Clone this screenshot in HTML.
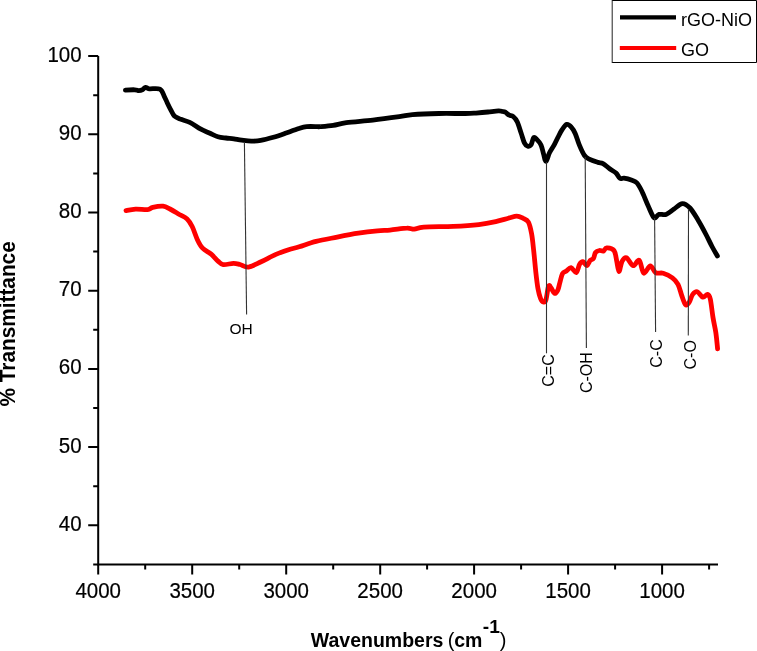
<!DOCTYPE html><html><head><meta charset="utf-8"><style>html,body{margin:0;padding:0;background:#fff;}svg{display:block;will-change:transform;}text{font-family:"Liberation Sans",sans-serif;}</style></head><body>
<svg width="757" height="651" viewBox="0 0 757 651">
<rect width="757" height="651" fill="#fff"/>
<g stroke="#000" stroke-width="2" fill="none">
<path d="M98.2 56.0 V564.4 H718.0"/>
<path d="M88.2 56.0h10 M93.2 95.2h5 M88.2 134.3h10 M93.2 173.4h5 M88.2 212.5h10 M93.2 251.6h5 M88.2 290.7h10 M93.2 329.8h5 M88.2 368.9h10 M93.2 408.0h5 M88.2 447.1h10 M93.2 486.2h5 M88.2 525.3h10 M93.2 564.4h5 M98.2 564.4v10 M145.2 564.4v5 M192.2 564.4v10 M239.2 564.4v5 M286.2 564.4v10 M333.2 564.4v5 M380.2 564.4v10 M427.1 564.4v5 M474.1 564.4v10 M521.1 564.4v5 M568.1 564.4v10 M615.1 564.4v5 M662.1 564.4v10 M709.1 564.4v5"/>
</g>
<text transform="translate(81.6 61.65) scale(1 1.05)" font-size="20.5" text-anchor="end" stroke="#000" stroke-width="0.2">100</text>
<text transform="translate(81.6 139.86) scale(1 1.05)" font-size="20.5" text-anchor="end" stroke="#000" stroke-width="0.2">90</text>
<text transform="translate(81.6 218.07) scale(1 1.05)" font-size="20.5" text-anchor="end" stroke="#000" stroke-width="0.2">80</text>
<text transform="translate(81.6 296.28) scale(1 1.05)" font-size="20.5" text-anchor="end" stroke="#000" stroke-width="0.2">70</text>
<text transform="translate(81.6 374.49) scale(1 1.05)" font-size="20.5" text-anchor="end" stroke="#000" stroke-width="0.2">60</text>
<text transform="translate(81.6 452.70) scale(1 1.05)" font-size="20.5" text-anchor="end" stroke="#000" stroke-width="0.2">50</text>
<text transform="translate(81.6 530.91) scale(1 1.05)" font-size="20.5" text-anchor="end" stroke="#000" stroke-width="0.2">40</text>
<text transform="translate(98.20 597.5) scale(1 1.05)" font-size="20.5" text-anchor="middle" stroke="#000" stroke-width="0.2">4000</text>
<text transform="translate(192.19 597.5) scale(1 1.05)" font-size="20.5" text-anchor="middle" stroke="#000" stroke-width="0.2">3500</text>
<text transform="translate(286.17 597.5) scale(1 1.05)" font-size="20.5" text-anchor="middle" stroke="#000" stroke-width="0.2">3000</text>
<text transform="translate(380.15 597.5) scale(1 1.05)" font-size="20.5" text-anchor="middle" stroke="#000" stroke-width="0.2">2500</text>
<text transform="translate(474.14 597.5) scale(1 1.05)" font-size="20.5" text-anchor="middle" stroke="#000" stroke-width="0.2">2000</text>
<text transform="translate(568.12 597.5) scale(1 1.05)" font-size="20.5" text-anchor="middle" stroke="#000" stroke-width="0.2">1500</text>
<text transform="translate(662.11 597.5) scale(1 1.05)" font-size="20.5" text-anchor="middle" stroke="#000" stroke-width="0.2">1000</text>
<path d="M125.4 90.1 C127.0 90.0 132.6 89.7 134.8 89.8 C137.0 89.9 137.5 90.7 138.8 90.7 C140.1 90.7 141.6 90.2 142.7 89.6 C143.8 89.0 144.5 87.4 145.6 87.3 C146.7 87.2 146.9 88.5 149.3 88.8 C151.7 89.1 157.4 87.9 159.9 89.2 C162.4 90.5 163.3 94.5 164.5 96.8 C165.7 99.0 166.2 100.6 167.2 102.7 C168.2 104.8 169.3 107.1 170.5 109.3 C171.7 111.5 172.7 114.3 174.4 116.0 C176.2 117.7 178.3 118.2 181.0 119.3 C183.7 120.4 187.0 120.9 190.3 122.6 C193.6 124.2 197.6 127.4 200.9 129.2 C204.2 131.0 207.2 132.0 210.0 133.3 C212.8 134.6 215.2 136.0 217.9 136.8 C220.6 137.6 223.2 137.7 225.9 138.0 C228.6 138.3 231.2 138.5 233.8 138.8 C236.4 139.2 238.8 139.7 241.7 140.1 C244.6 140.5 248.0 141.1 251.2 141.2 C254.4 141.2 257.0 141.1 260.7 140.4 C264.4 139.8 269.2 138.5 273.4 137.3 C277.6 136.1 281.9 134.5 286.1 133.0 C290.3 131.5 295.4 129.6 298.8 128.5 C302.2 127.4 303.5 126.9 306.7 126.6 C309.9 126.3 315.6 126.6 317.8 126.6 C320.0 126.6 317.4 126.9 320.0 126.7 C322.6 126.5 328.8 126.1 333.2 125.4 C337.6 124.7 339.8 123.6 346.4 122.7 C353.0 121.8 364.0 121.1 372.8 120.1 C381.6 119.1 392.7 117.6 399.3 116.7 C405.9 115.8 405.9 115.1 412.5 114.6 C419.1 114.1 430.1 113.7 438.9 113.5 C447.7 113.3 459.1 113.6 465.3 113.5 C471.5 113.4 472.2 113.3 476.0 113.1 C479.8 112.8 484.2 112.4 488.0 112.0 C491.8 111.6 496.1 111.0 498.5 110.9 C500.9 110.8 501.4 111.3 502.5 111.5 C503.6 111.7 504.2 111.6 505.3 112.2 C506.4 112.8 507.9 114.5 509.2 115.2 C510.5 115.9 511.9 115.4 513.2 116.5 C514.5 117.6 515.9 119.0 517.2 121.8 C518.5 124.5 519.9 129.5 521.1 133.0 C522.3 136.5 523.3 140.7 524.4 142.9 C525.5 145.1 526.6 145.9 527.7 146.2 C528.8 146.5 530.0 146.3 531.0 144.9 C532.0 143.5 532.7 138.5 533.7 137.6 C534.7 136.7 535.8 138.4 537.0 139.6 C538.2 140.8 539.9 142.5 541.0 144.9 C542.1 147.3 542.8 151.4 543.6 154.2 C544.4 156.9 545.0 161.6 546.0 161.4 C547.0 161.2 548.1 155.6 549.5 152.8 C550.9 150.1 552.8 147.5 554.2 144.9 C555.6 142.3 556.8 139.5 558.1 137.0 C559.4 134.5 560.7 131.8 562.1 129.7 C563.5 127.6 565.2 124.8 566.7 124.4 C568.2 124.0 569.9 125.5 571.3 127.1 C572.7 128.6 574.0 130.7 575.3 133.7 C576.6 136.7 577.8 141.3 579.3 144.9 C580.8 148.5 582.8 153.1 584.5 155.5 C586.2 157.9 587.5 158.2 589.8 159.4 C592.0 160.6 595.8 161.7 598.0 162.4 C600.2 163.1 601.0 162.5 603.0 163.6 C605.0 164.7 607.8 167.4 610.0 169.0 C612.2 170.6 614.3 171.4 616.0 173.0 C617.7 174.6 618.7 177.5 620.0 178.4 C621.3 179.3 622.0 177.9 624.0 178.2 C626.0 178.5 629.8 179.5 632.0 180.3 C634.2 181.1 635.3 181.1 637.0 183.0 C638.7 184.9 640.2 187.8 642.0 191.5 C643.8 195.2 646.0 201.2 648.0 205.5 C650.0 209.8 652.2 216.1 654.0 217.6 C655.8 219.1 657.0 214.9 659.0 214.4 C661.0 213.9 663.5 215.3 666.0 214.4 C668.5 213.5 671.3 210.8 674.0 209.0 C676.7 207.2 679.7 203.8 682.4 203.6 C685.1 203.4 687.4 205.3 690.0 208.0 C692.6 210.7 695.3 215.6 698.0 220.0 C700.7 224.4 703.7 230.1 706.0 234.5 C708.3 238.9 710.1 242.9 712.0 246.5 C713.9 250.1 716.5 254.4 717.4 256.0" stroke="#000" stroke-width="4.8" fill="none" stroke-linejoin="round" stroke-linecap="round"/>
<path d="M126.0 210.6 C127.6 210.3 132.0 209.3 135.6 209.1 C139.2 208.9 144.7 209.9 147.6 209.6 C150.5 209.3 150.2 208.0 152.8 207.4 C155.4 206.8 160.2 205.9 163.1 206.2 C166.0 206.5 167.4 207.7 170.0 209.0 C172.6 210.3 175.7 212.3 178.5 214.0 C181.3 215.7 184.8 216.9 187.1 219.0 C189.4 221.1 190.6 223.4 192.3 226.8 C194.0 230.2 195.7 236.1 197.4 239.7 C199.1 243.3 200.3 245.8 202.6 248.2 C204.9 250.6 208.6 252.0 211.2 254.2 C213.8 256.4 216.0 259.4 218.0 261.1 C220.0 262.8 220.6 264.2 223.2 264.6 C225.8 265.0 230.7 263.4 233.5 263.4 C236.3 263.4 237.5 263.9 240.0 264.5 C242.5 265.1 245.0 267.6 248.5 267.1 C252.0 266.7 256.5 263.9 261.1 261.8 C265.7 259.7 271.3 256.4 275.9 254.4 C280.5 252.4 284.7 251.0 288.6 249.7 C292.5 248.4 294.6 248.2 299.2 246.8 C303.8 245.4 309.8 243.0 316.1 241.4 C322.4 239.8 330.1 238.5 337.2 237.1 C344.2 235.7 351.7 234.2 358.4 233.2 C365.1 232.1 372.1 231.3 377.4 230.8 C382.7 230.3 385.1 230.5 390.0 230.1 C394.9 229.7 402.8 228.3 406.9 228.2 C410.9 228.0 411.5 229.4 414.3 229.2 C417.1 229.0 417.3 227.6 423.8 227.1 C430.3 226.6 444.2 226.8 453.4 226.4 C462.6 226.0 471.8 225.4 478.8 224.6 C485.9 223.8 490.8 222.7 495.7 221.6 C500.6 220.5 504.9 219.1 508.4 218.2 C511.9 217.3 514.3 216.1 516.8 216.1 C519.3 216.1 521.3 217.4 523.2 218.4 C525.1 219.4 527.0 219.6 528.4 222.2 C529.8 224.8 530.7 229.1 531.6 233.8 C532.5 238.6 533.0 244.3 533.7 250.7 C534.4 257.0 535.1 265.5 535.8 271.9 C536.5 278.2 537.2 284.4 538.0 288.8 C538.8 293.2 539.6 296.1 540.5 298.3 C541.4 300.5 542.4 301.7 543.3 302.0 C544.2 302.3 545.0 302.6 545.9 300.0 C546.8 297.4 547.7 288.1 548.6 286.1 C549.5 284.1 550.2 286.9 551.2 288.1 C552.2 289.3 553.4 293.1 554.5 293.4 C555.6 293.7 556.9 291.9 557.8 290.1 C558.7 288.3 559.0 285.6 559.8 282.8 C560.6 280.1 561.4 275.6 562.5 273.6 C563.6 271.6 565.0 272.0 566.4 271.0 C567.8 270.0 569.4 267.4 571.0 267.6 C572.6 267.9 574.9 273.1 576.3 272.5 C577.7 271.9 578.5 266.1 579.6 264.3 C580.7 262.5 581.7 261.5 582.9 261.7 C584.1 261.9 585.7 265.9 586.9 265.7 C588.1 265.5 589.1 261.6 590.2 260.4 C591.3 259.2 592.6 259.7 593.5 258.4 C594.4 257.1 594.5 253.8 595.5 252.5 C596.5 251.2 598.1 250.7 599.4 250.5 C600.7 250.3 602.2 251.5 603.4 251.1 C604.6 250.7 604.9 247.9 606.7 247.8 C608.5 247.7 612.4 248.4 614.0 250.5 C615.6 252.6 615.8 256.9 616.6 260.4 C617.4 263.9 618.1 271.4 619.0 271.6 C619.9 271.8 620.6 264.0 621.9 261.7 C623.1 259.4 624.6 257.0 626.5 257.7 C628.4 258.4 631.0 265.3 633.1 265.7 C635.2 266.1 637.4 259.1 639.2 260.3 C641.0 261.6 641.9 272.3 643.8 273.2 C645.6 274.1 648.3 265.9 650.3 265.8 C652.3 265.7 653.6 271.6 655.8 272.8 C657.9 274.0 660.4 272.4 663.2 273.2 C666.0 274.0 669.9 275.9 672.4 277.8 C674.9 279.7 676.5 281.4 678.0 284.3 C679.5 287.2 680.5 292.0 681.7 295.4 C682.9 298.8 684.2 303.4 685.4 304.6 C686.6 305.8 687.8 304.4 689.0 302.7 C690.2 301.0 691.3 296.2 692.7 294.4 C694.1 292.6 695.6 291.2 697.3 291.7 C699.0 292.2 701.2 296.8 702.9 297.2 C704.6 297.6 706.3 294.1 707.5 294.4 C708.7 294.7 709.4 295.1 710.3 299.0 C711.2 302.9 712.1 311.9 713.0 317.5 C713.9 323.1 715.0 327.1 715.8 332.3 C716.6 337.5 717.3 346.1 717.6 348.9" stroke="#f00" stroke-width="4.8" fill="none" stroke-linejoin="round" stroke-linecap="round"/>
<g stroke="#333" stroke-width="1.1" fill="none">
<path d="M244.4 142.0 L246.6 314.5"/>
<path d="M546.5 162.0 L546.5 353.3"/>
<path d="M585.2 157.0 L586.4 348.0"/>
<path d="M654.6 218.0 L655.6 331.9"/>
<path d="M688.5 209.0 L688.3 335.5"/>
</g>
<text x="241.2" y="334.1" font-size="15.5" text-anchor="middle">OH</text>
<text transform="translate(553.9 370.5) rotate(-90)" font-size="16" text-anchor="middle">C=C</text>
<text transform="translate(592.3 372.6) rotate(-90)" font-size="16" text-anchor="middle">C-OH</text>
<text transform="translate(661.5 353.5) rotate(-90)" font-size="16" text-anchor="middle">C-C</text>
<text transform="translate(695.7 354.8) rotate(-90)" font-size="16" text-anchor="middle">C-O</text>
<text transform="translate(15.3 323.9) rotate(-90) scale(1 1.05)" font-size="20.8" font-weight="bold" text-anchor="middle">% Transmittance</text>
<text x="310.8" y="646.5" font-size="19.5" font-weight="bold">Wavenumbers</text>
<text x="447.8" y="646.5" font-size="20">(</text>
<text x="454.2" y="646.5" font-size="19.5" font-weight="bold">cm</text>
<text x="482.8" y="632.8" font-size="19.2" font-weight="bold">-1</text>
<text x="499.8" y="646.5" font-size="20">)</text>
<rect x="612" y="0" width="145" height="63" fill="#fff"/><path d="M612 0.5H756.5V62.5H612" fill="none" stroke="#000" stroke-width="1"/><path d="M612.2 0V63" stroke="#222" stroke-width="1"/>
<path d="M620 17.4H676" stroke="#000" stroke-width="4.4"/>
<path d="M619.8 48H676.2" stroke="#f00" stroke-width="4.2"/>
<text x="681" y="26" font-size="18">rGO-NiO</text>
<text x="681" y="56.3" font-size="18">GO</text>
</svg></body></html>
